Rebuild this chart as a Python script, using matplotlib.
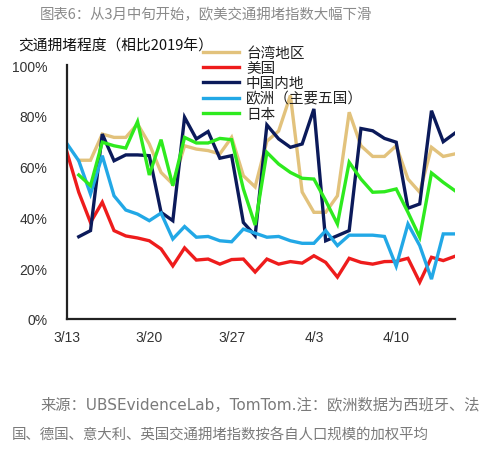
import matplotlib
matplotlib.use("Agg")
import matplotlib.pyplot as plt
import numpy as np

plt.rcParams['font.family'] = ['Noto Sans CJK SC', 'DejaVu Sans']

dates = ["3/13","3/14","3/15","3/16","3/17","3/18","3/19","3/20","3/21","3/22","3/23","3/24",
         "3/25","3/26","3/27","3/28","3/29","3/30","3/31","4/1","4/2","4/3","4/4","4/5",
         "4/6","4/7","4/8","4/9","4/10","4/11","4/12","4/13","4/14","4/15"]
tick_labels = ["3/13", "3/20", "3/27", "4/3", "4/10"]

taiwan = [None, 62.5, 62.5, 72.8, 71.5, 71.5, 76.8, 68.9, 57.7, 53.1, 68.2, 66.9, 66.3, 65.0,
          71.5, 56.4, 52.0, 70.0, 74.0, 88.0, 50.0, 42.0, 42.0, 48.5, 81.4, 68.2, 64.0, 64.0,
          68.2, 55.1, 49.9, 67.6, 64.0, 65.0]
usa = [65.6, 49.9, 38.0, 46.0, 34.8, 32.7, 31.9, 30.8, 27.6, 20.9, 28.0, 23.2, 23.6, 21.6,
       23.4, 23.6, 18.5, 23.6, 21.6, 22.6, 22.0, 24.9, 22.3, 16.5, 23.9, 22.3, 21.6, 22.6,
       22.7, 23.9, 14.5, 24.3, 23.0, 24.7]
china = [None, 32.4, 34.8, 72.8, 62.3, 64.6, 64.6, 64.3, 42.0, 38.7, 79.4, 70.9, 73.8, 63.3,
         64.3, 38.0, 32.8, 76.4, 70.9, 67.6, 68.9, 82.7, 30.8, 32.8, 34.8, 75.0, 74.1, 71.1,
         69.6, 43.6, 45.3, 82.0, 69.8, 73.2]
europe = [69.0, 62.3, 49.2, 64.3, 48.5, 42.9, 41.3, 38.7, 41.7, 31.5, 36.4, 32.2, 32.5, 30.8,
          30.4, 35.4, 33.8, 32.2, 32.5, 30.8, 29.8, 29.8, 34.8, 28.9, 33.0, 33.0, 33.0, 32.5,
          20.8, 37.4, 28.9, 15.7, 33.5, 33.5]
japan = [None, 56.7, 52.5, 69.6, 68.2, 67.3, 77.7, 56.7, 70.6, 52.5, 71.5, 69.3, 69.3, 71.1,
         70.6, 51.2, 37.0, 65.6, 61.0, 57.7, 55.4, 55.1, 46.6, 37.4, 61.7, 55.1, 49.9, 50.1,
         51.2, 42.0, 32.2, 57.5, 53.8, 50.5]

series = [
    ("台湾地区", taiwan, "#E2C27C"),
    ("美国", usa, "#EE1C1C"),
    ("中国内地", china, "#0B1A5A"),
    ("欧洲（主要五国）", europe, "#22A8E6"),
    ("日本", japan, "#2EEA1E"),
]

W, H = 484, 452
fig = plt.figure(figsize=(W/100, H/100), dpi=100)
ax = fig.add_axes([67/W, 1-320/H, (455-67)/W, (320-66)/H])

x = np.arange(len(dates))
handles = []
for name, vals, col in series:
    y = np.array([np.nan if v is None else v/100 for v in vals], dtype=float)
    h, = ax.plot(x, y, color=col, lw=2.4, label=name, solid_joinstyle='miter')
    handles.append(h)

ax.set_xlim(0, len(dates)-1)
ax.set_ylim(0, 1.0)
ax.set_yticks([0, 0.2, 0.4, 0.6, 0.8, 1.0])
ax.set_yticklabels(["0%", "20%", "40%", "60%", "80%", "100%"])
ax.set_xticks([dates.index(t) for t in tick_labels])
ax.set_xticklabels(tick_labels)
for lab in ax.get_yticklabels() + ax.get_xticklabels():
    lab.set_fontfamily(['Liberation Sans', 'DejaVu Sans'])
    lab.set_fontsize(10)
    lab.set_color('#333333')
ax.tick_params(axis='both', length=0)
ax.tick_params(axis='y', pad=14)
ax.tick_params(axis='x', pad=8)
for s in ['top', 'right']:
    ax.spines[s].set_visible(False)
for s in ['left', 'bottom']:
    ax.spines[s].set_color('#222222')
    ax.spines[s].set_linewidth(1.6)
ax.set_facecolor('none')

leg = fig.legend(handles=handles, loc='upper left', bbox_to_anchor=(203/W, 1-47/H),
                 frameon=False, fontsize=10.5, handlelength=2.5, handletextpad=0.45,
                 labelspacing=0.08, borderpad=0, borderaxespad=0)
for t in leg.get_texts():
    t.set_color('#222222')

fig.text(40/W, 1-15/H, "图表6：从3月中旬开始，欧美交通拥堵指数大幅下滑", fontsize=10.4,
         color='#8a8a8a', ha='left', va='center')
fig.text(18/W, 1-46/H, "交通拥堵程度（相比2019年）", fontsize=10.6,
         color='#111111', ha='left', va='center')
fig.text(40/W, 1-405/H, "来源：UBSEvidenceLab，TomTom.注：欧洲数据为西班牙、法", fontsize=11,
         family=['DejaVu Sans', 'Noto Sans CJK SC'],
         color='#7a7a7a', ha='left', va='center')
fig.text(12/W, 1-435/H, "国、德国、意大利、英国交通拥堵指数按各自人口规模的加权平均", fontsize=10.4,
         color='#7a7a7a', ha='left', va='center')

fig.savefig("out.png", dpi=100)
